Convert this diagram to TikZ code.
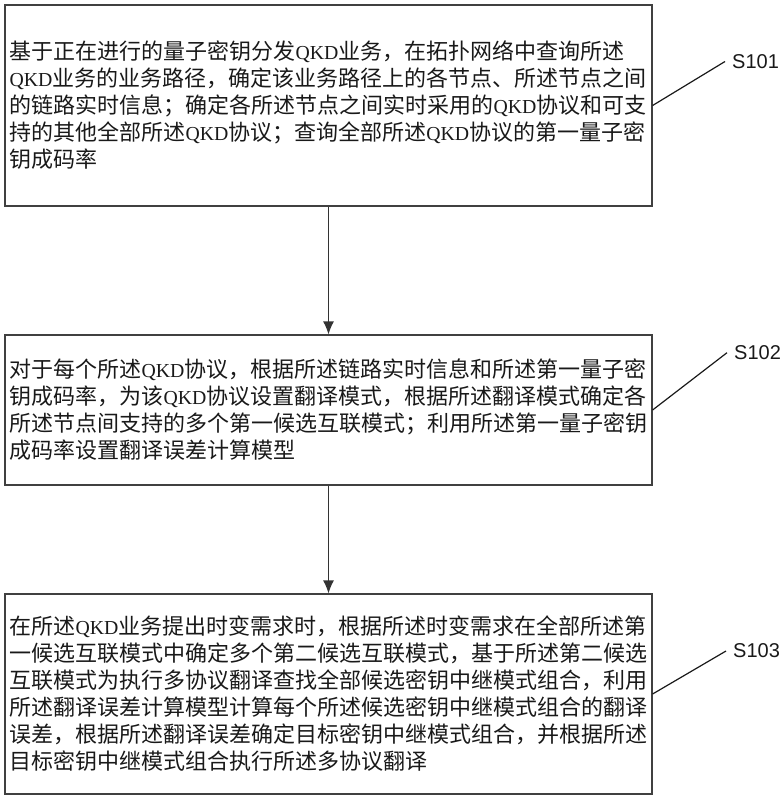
\documentclass[tikz,border=0pt]{standalone}
\usepackage{fontspec}
\setmainfont{Noto Sans CJK SC}
\newfontfamily\qkdfont{Liberation Serif}
\newfontfamily\labelfont{Liberation Sans}
\usetikzlibrary{arrows.meta}
\newcommand{\QKD}{{\qkdfont\fontsize{19.8}{27}\selectfont QKD}}

\begin{document}
\begin{tikzpicture}[x=1pt, y=-1pt,
		stepbox/.style={draw=black!75, line width=1.2pt, text width=638pt, inner xsep=4.5pt, align=left, font=\fontsize{22}{27}\selectfont, text=black!90},
		steplabel/.style={anchor=west, inner xsep=7pt, inner ysep=1pt, font=\labelfont\fontsize{20}{20}\selectfont, text=black!90},
		flowarrow/.style={line width=1.2pt, draw=black!80, -{Latex[length=13pt, width=11pt]}},
		labelline/.style={line width=1.2pt, draw=black!90}]
				\useasboundingbox (0, 0) rectangle (782, 800);

				\node[stepbox, minimum height=201pt] (box1) at (328.5, 105.5) {基于正在进行的量子密钥分发\QKD 业务，在拓扑网络中查询所述\\ \QKD 业务的业务路径，确定该业务路径上的各节点、所述节点之间\\ 的链路实时信息；确定各所述节点之间实时采用的\QKD 协议和可支\\ 持的其他全部所述\QKD 协议；查询全部所述\QKD 协议的第一量子密\\ 钥成码率};
				\node[stepbox, minimum height=150pt] (box2) at (328.5, 410.0) {对于每个所述\QKD 协议，根据所述链路实时信息和所述第一量子密\\ 钥成码率，为该\QKD 协议设置翻译模式，根据所述翻译模式确定各\\ 所述节点间支持的多个第一候选互联模式；利用所述第一量子密钥\\ 成码率设置翻译误差计算模型};
				\node[stepbox, minimum height=200pt] (box3) at (328.5, 694.0) {在所述\QKD 业务提出时变需求时，根据所述时变需求在全部所述第\\ 一候选互联模式中确定多个第二候选互联模式，基于所述第二候选\\ 互联模式为执行多协议翻译查找全部候选密钥中继模式组合，利用\\ 所述翻译误差计算模型计算每个所述候选密钥中继模式组合的翻译\\ 误差，根据所述翻译误差确定目标密钥中继模式组合，并根据所述\\ 目标密钥中继模式组合执行所述多协议翻译};

				\draw[flowarrow] (box1.south) -- (box2.north);
				\draw[flowarrow] (box2.south) -- (box3.north);

				\node[steplabel] (lab1) at (725.0, 61.5) {S101};
				\node[steplabel] (lab2) at (727.0, 352.7) {S102};
				\node[steplabel] (lab3) at (726.0, 651.0) {S103};
				\draw[labelline] (box1.east) -- (lab1.west);
				\draw[labelline] (box2.east) -- (lab2.west);
				\draw[labelline] (box3.east) -- (lab3.west);
			\end{tikzpicture}
\end{document}
